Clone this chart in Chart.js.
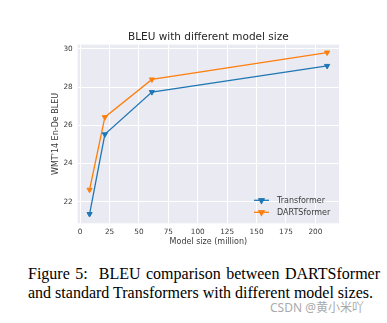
<!DOCTYPE html>
<html>
<head>
<meta charset="utf-8">
<script src="https://cdn.jsdelivr.net/npm/chart.js@4/dist/chart.umd.min.js"></script>
<style>
  html, body { margin: 0; padding: 0; background: #fff; }
  #wrap { position: relative; width: 387px; height: 323px; overflow: hidden; }
  #chart-box { position: absolute; left: 0; top: 0; width: 387px; height: 250px; }
  #caption {
    position: absolute; left: 28px; top: 265px; width: 352px;
    font-family: "Liberation Serif", "Times New Roman", serif;
    font-size: 16px; line-height: 18.6px; color: #000;
  }
  #caption .l1 { text-align: justify; text-align-last: justify; white-space: nowrap; }
  #mark {
    position: absolute; left: 270px; top: 298px;
    font-family: "Noto Sans", "Noto Sans CJK SC", sans-serif;
    font-size: 12px; color: #aaa;
  }
</style>
</head>
<body>
<div id="wrap">
  <div id="chart-box"><canvas id="chart"></canvas></div>
  <div id="caption">
    <div class="l1">Figure 5:&nbsp; BLEU comparison between DARTSformer</div>
    <div>and standard Transformers with different model sizes.</div>
  </div>
  <div id="mark">CSDN @黄小米吖</div>
</div>
<script>
const modelSize = [8, 21, 61, 210];
const transformerBleu = [21.36, 25.53, 27.74, 29.11];
const dartsformerBleu = [22.63, 26.43, 28.40, 29.81];
const seriesNames = ["Transformer", "DARTSformer"];
const seriesColors = ["#1f77b4", "#ff7f0e"];
const xTicks = [0, 25, 50, 75, 100, 125, 150, 175, 200];
const yTicks = [22, 24, 26, 28, 30];

const textColor = "#3a3a3a";

// seaborn-style grey plot area
const plotBg = {
  id: "plotBg",
  beforeDraw(chart) {
    const { ctx, chartArea: a } = chart;
    ctx.save();
    ctx.fillStyle = "#eaeaf2";
    ctx.fillRect(a.left, a.top, a.right - a.left, a.bottom - a.top);
    ctx.restore();
  },
};

// legend inside the plot, lower right
const innerLegend = {
  id: "innerLegend",
  afterDraw(chart) {
    const { ctx, chartArea: a } = chart;
    const x0 = a.right - 85;
    const y0 = a.bottom - 23;
    ctx.save();
    chart.data.datasets.forEach((ds, i) => {
      const y = y0 + i * 12;
      ctx.strokeStyle = ds.borderColor;
      ctx.lineWidth = 1.3;
      ctx.beginPath();
      ctx.moveTo(x0, y);
      ctx.lineTo(x0 + 15, y);
      ctx.stroke();
      Chart.helpers.drawPoint(ctx, {
        pointStyle: "triangle", rotation: 180, radius: 3, borderWidth: 1,
      }, x0 + 7.5, y);
      ctx.fillStyle = ds.borderColor;
      ctx.fill();
      ctx.fillStyle = textColor;
      ctx.font = '8px "DejaVu Sans"';
      ctx.textBaseline = "middle";
      ctx.textAlign = "left";
      ctx.fillText(ds.label, x0 + 23, y + 0.5);
    });
    ctx.restore();
  },
};

Chart.defaults.font.family = '"DejaVu Sans", sans-serif';

new Chart(document.getElementById("chart"), {
  type: "line",
  data: {
    datasets: [transformerBleu, dartsformerBleu].map((vals, i) => ({
      label: seriesNames[i],
      data: modelSize.map((m, j) => ({ x: m, y: vals[j] })),
      borderColor: seriesColors[i],
      backgroundColor: seriesColors[i],
      borderWidth: 1.3,
      tension: 0,
      pointStyle: "triangle",
      rotation: 180,
      pointRadius: 3,
      pointBorderWidth: 1,
    })),
  },
  options: {
    responsive: true,
    maintainAspectRatio: false,
    animation: false,
    layout: { padding: { top: 31, left: 50, right: 48, bottom: 0 } },
    plugins: {
      legend: { display: false },
      tooltip: { enabled: false },
      title: {
        display: true,
        text: "BLEU with different model size",
        fullSize: false,
        color: "#262626",
        font: { size: 10.5, weight: "normal" },
        padding: { top: 0, bottom: 1 },
      },
    },
    scales: {
      x: {
        type: "linear",
        min: -2.1,
        max: 220.1,
        afterBuildTicks: (s) => { s.ticks = xTicks.map((v) => ({ value: v })); },
        afterFit: (s) => { s.height = 26.7; },
        grid: { color: "#fff", lineWidth: 1, drawTicks: false },
        border: { display: false },
        ticks: { color: textColor, font: { size: 7.3 }, padding: 4, maxRotation: 0 },
        title: {
          display: true, text: "Model size (million)", color: textColor,
          font: { size: 8 }, padding: { top: 0, bottom: 3.5 },
        },
      },
      y: {
        min: 20.875,
        max: 30.225,
        afterBuildTicks: (s) => { s.ticks = yTicks.map((v) => ({ value: v })); },
        afterFit: (s) => { s.width = 27.7; },
        grid: { color: "#fff", lineWidth: 1, drawTicks: false },
        border: { display: false },
        ticks: { color: textColor, font: { size: 7.3 }, padding: 5 },
        title: {
          display: true, text: "WMT'14 En-De BLEU", color: textColor,
          font: { size: 8 }, padding: { top: 1.2, bottom: 0 },
        },
      },
    },
  },
  plugins: [plotBg, innerLegend],
});
</script>
</body>
</html>
